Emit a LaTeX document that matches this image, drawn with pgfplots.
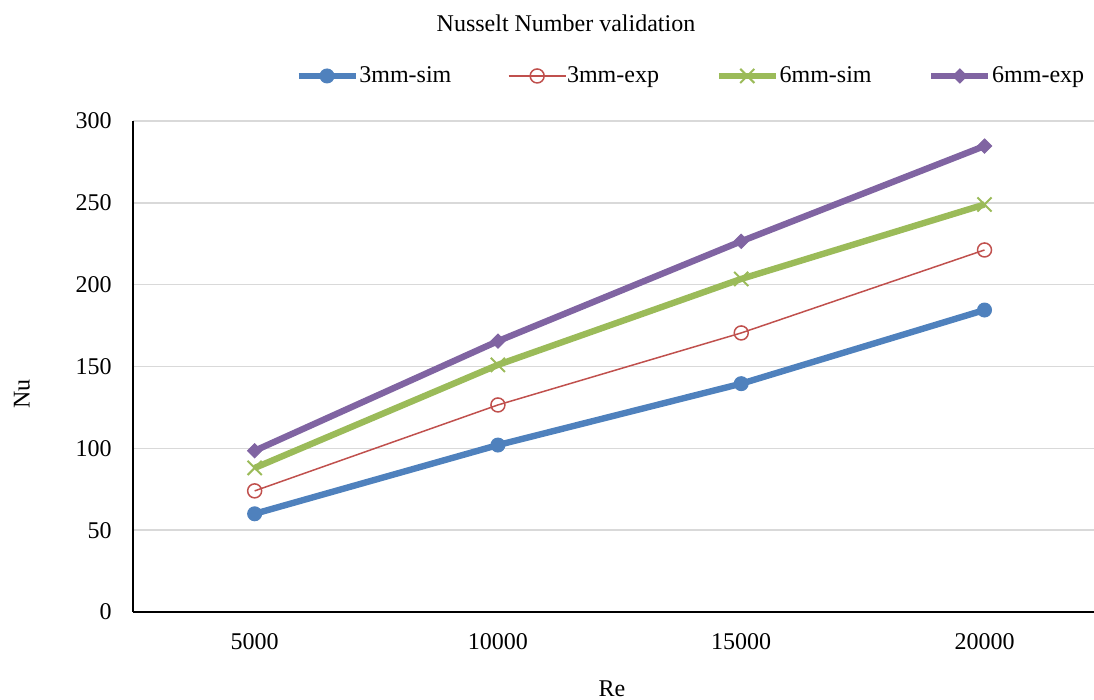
\documentclass[border=0pt]{standalone}
\usepackage{fontspec}
\setmainfont{Liberation Serif}
\usepackage{pgfplots}
\pgfplotsset{compat=1.18}
\definecolor{cblue}{HTML}{4F81BD}
\definecolor{cred}{HTML}{C0504D}
\definecolor{cgreen}{HTML}{9BBB59}
\definecolor{cpurple}{HTML}{8064A2}
\definecolor{cgrid}{HTML}{D9D9D9}
\begin{document}
\fontsize{12pt}{14.4pt}\selectfont
\begin{tikzpicture}
\path[use as bounding box] (-66.5pt,-44pt) rectangle (480.5pt,306pt);
\begin{axis}[
  at={(0pt,0pt)}, anchor=south west,
  scale only axis, width=480.5pt, height=245.5pt,
  xmin=-0.5, xmax=3.45, ymin=0, ymax=300,
  xtick={0,1,2,3}, xticklabels={5000,10000,15000,20000},
  ytick={0,50,100,150,200,250,300},
  axis x line*=bottom, axis y line*=left,
  axis line style={black, line width=0.75pt},
  ymajorgrids, grid style={cgrid, line width=0.75pt},
  major tick length=0pt,
  /pgf/number format/assume math mode=true,
  xticklabel style={anchor=base, yshift=-19pt, inner sep=0pt},
  yticklabel style={anchor=east, xshift=-10.5pt, inner sep=0pt},
  xlabel={Re}, xlabel style={at={(axis description cs:0.4985,-0.1568)}, anchor=center, inner sep=0pt},
  ylabel={Nu}, ylabel style={at={(axis description cs:-0.1155,0.444)}, anchor=center, inner sep=0pt},
  clip=false,
  legend image code/.code={\draw[mark repeat=2,mark phase=2,#1] plot coordinates {(0pt,0pt)(14.25pt,0pt)(28.5pt,0pt)};},
  legend columns=4,
  legend cell align=left,
  legend style={draw=none, fill=none, at={(axis description cs:0.1685,1.0917)}, anchor=west,
    inner sep=0pt, nodes={inner sep=0.3pt},
    /tikz/every even column/.append style={column sep=28pt}},
]
\addplot[color=cblue, line width=3.2pt, mark=*, mark size=3.5pt, mark options={line width=0.5pt, fill=cblue}]
  coordinates {(0,60)(1,102)(2,139.5)(3,184.5)};
\addlegendentry{3mm-sim}
\addplot[color=cred, line width=0.75pt, mark=o, mark size=3.5pt, mark options={line width=0.75pt, fill=white}]
  coordinates {(0,74)(1,126.5)(2,170.5)(3,221.2)};
\addlegendentry{3mm-exp}
\addplot[color=cgreen, line width=3.2pt, mark=x, mark size=5pt, mark options={line width=1pt}]
  coordinates {(0,88)(1,151)(2,203.5)(3,249)};
\addlegendentry{6mm-sim}
\addplot[color=cpurple, line width=3.2pt, mark=square*, mark size=2.5pt, mark options={line width=0.5pt, rotate=45, fill=cpurple}]
  coordinates {(0,98.5)(1,165.5)(2,226.5)(3,284.7)};
\addlegendentry{6mm-exp}
\end{axis}
\node[anchor=center, inner sep=0pt] at (216.5pt,294.25pt) {Nusselt Number validation};
\end{tikzpicture}
\end{document}
